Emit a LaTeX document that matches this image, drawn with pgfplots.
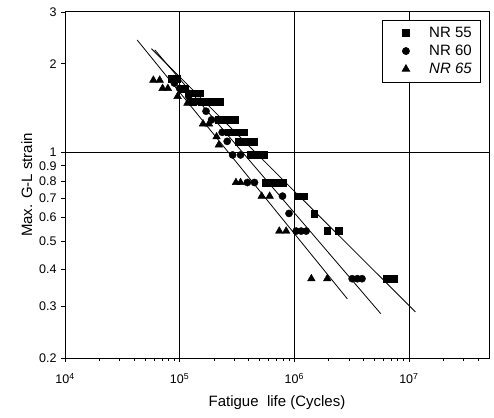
\documentclass[border=0pt]{standalone}
\usepackage{fontspec}
\setmainfont{Liberation Sans}
\usepackage{pgfplots}
\pgfplotsset{compat=1.18}
\begin{document}
\begin{tikzpicture}
\begin{axis}[
  xmode=log, ymode=log,
  scale only axis, width=424pt, height=346pt,
  xmin=1e4, xmax=5e7, ymin=0.2, ymax=3,
  xtick={1e4,1e5,1e6,1e7},
  xticklabels={10\textsuperscript{4},10\textsuperscript{5},10\textsuperscript{6},10\textsuperscript{7}},
  minor xtick={2e4,3e4,4e4,5e4,6e4,7e4,8e4,9e4,2e5,3e5,4e5,5e5,6e5,7e5,8e5,9e5,2e6,3e6,4e6,5e6,6e6,7e6,8e6,9e6,2e7,3e7,4e7},
  ytick={0.2,0.3,0.4,0.5,0.6,0.7,0.8,0.9,2,3},
  yticklabels={0.2,0.3,0.4,0.5,0.6,0.7,0.8,0.9,2,3},
  extra y ticks={1}, extra y tick labels={1},
  extra y tick style={ymajorgrids=true},
  xmajorgrids=true,
  grid style={black, line width=0.6pt},
  tick align=outside, xtick pos=left, ytick pos=left,
  major tick length=4pt, minor tick length=3pt,
  tick style={black, line width=0.7pt},
  axis line style={black, line width=1pt},
  tick label style={font=\fontsize{12.5}{14}\selectfont},
  yticklabel style={xshift=-1pt},
  xticklabel style={yshift=-8pt},
  xlabel={Fatigue\ \ life (Cycles)},
  ylabel={Max. G-L strain},
  xlabel style={at={(axis description cs:0.5,-0.13)}, anchor=center},
  ylabel style={at={(axis description cs:-0.09,0.5)}, anchor=center},
  label style={font=\fontsize{15}{17}\selectfont},
  legend style={at={(0.979,0.977)}, anchor=north east, draw=black, line width=0.6pt,
    font=\fontsize{15}{17}\selectfont, cells={anchor=west}, row sep=2pt,
    inner xsep=6pt, inner ysep=5pt},
  legend image code/.code={\path (0pt,0pt) (38pt,0pt); \draw[#1] plot coordinates {(17pt,0pt)};},
  legend cell align=left,
]
\addplot[only marks, mark=square*, mark size=3.4pt, black] coordinates {
(8.5e4,1.78) (9.5e4,1.78) (1.05e5,1.65) (1.12e5,1.65) (1.2e5,1.59) (1.35e5,1.59) (1.5e5,1.59)
(1.3e5,1.49) (1.55e5,1.49) (1.8e5,1.49) (2.1e5,1.49) (2.25e5,1.49)
(2.2e5,1.29) (2.5e5,1.29) (2.8e5,1.29) (3.05e5,1.29)
(2.7e5,1.17) (3.1e5,1.17) (3.6e5,1.17)
(3.3e5,1.09) (3.8e5,1.09) (4.4e5,1.09)
(4.2e5,0.98) (4.8e5,0.98) (5.4e5,0.98)
(5.6e5,0.79) (6.3e5,0.79) (7.1e5,0.79) (7.9e5,0.79)
(1.1e6,0.71) (1.22e6,0.71) (1.49e6,0.62) (1.94e6,0.54) (2.46e6,0.54)
(6.4e6,0.372) (7.4e6,0.372)
};
\addlegendentry{NR 55}
\addplot[only marks, mark=*, mark size=3.6pt, black] coordinates {
(9.0e4,1.72) (1.0e5,1.65) (1.2e5,1.55) (1.45e5,1.49) (1.7e5,1.38) (1.9e5,1.29)
(2.35e5,1.17) (2.6e5,1.09) (2.9e5,0.98) (3.4e5,0.98) (3.9e5,0.79) (4.5e5,0.79)
(7.9e5,0.71) (9.0e5,0.62) (1.04e6,0.54) (1.15e6,0.54) (1.27e6,0.54)
(3.2e6,0.372) (3.55e6,0.372) (3.9e6,0.372)
};
\addlegendentry{NR 60}
\addplot[only marks, mark=triangle*, mark size=4.4pt, black] coordinates {
(5.9e4,1.76) (6.7e4,1.76) (7.1e4,1.65) (7.9e4,1.65) (9.6e4,1.55) (1.17e5,1.47)
(1.6e5,1.25) (1.8e5,1.25) (2.1e5,1.13) (2.2e5,1.06)
(3.1e5,0.79) (3.4e5,0.79) (5.2e5,0.71) (6.1e5,0.71) (7.4e5,0.54) (8.5e5,0.54)
(1.41e6,0.372) (1.94e6,0.372)
};
\addlegendentry{\textit{NR 65}}
\addplot[black, line width=0.8pt, forget plot] coordinates {(5.68e4,2.25) (1.14e7,0.287)};
\addplot[black, line width=0.8pt, forget plot] coordinates {(6.07e4,2.23) (5.68e6,0.283)};
\addplot[black, line width=0.8pt, forget plot] coordinates {(4.26e4,2.41) (2.90e6,0.318)};
\end{axis}
\pgfresetboundingbox
\path[use as bounding box] (current axis.south west) ++(-65pt,-60pt) rectangle ([xshift=5pt,yshift=12pt]current axis.north east);
\end{tikzpicture}
\end{document}
